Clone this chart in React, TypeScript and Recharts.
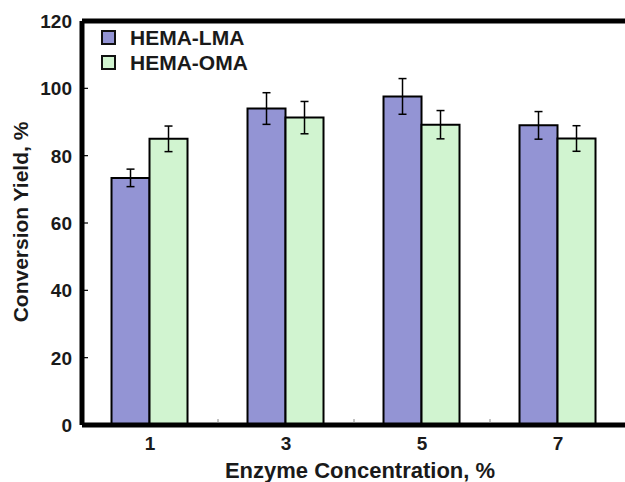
import React from 'react';
import { BarChart, Bar, XAxis, YAxis, ErrorBar, Legend, ReferenceLine } from 'recharts';

const categories = ['1', '3', '5', '7'];
const lmaValues = [73.4, 94.0, 97.6, 89.0];
const lmaErrors = [2.6, 4.7, 5.3, 4.1];
const omaValues = [85.0, 91.3, 89.2, 85.1];
const omaErrors = [3.8, 4.8, 4.2, 3.8];
const yTicks = [0, 20, 40, 60, 80, 100, 120];
const seriesNames = ['HEMA-LMA', 'HEMA-OMA'];
const seriesColors = ['#9394d4', '#d1f4d0'];

const data = categories.map((c, i) => ({
  c,
  lma: lmaValues[i],
  lmaErr: lmaErrors[i],
  oma: omaValues[i],
  omaErr: omaErrors[i],
}));

const FONT = '"Liberation Sans", Arial, Helvetica, sans-serif';
const CHART_W = 630;
const CHART_H = 482;
const X_AXIS_H = 57;
const MARGIN = { top: 21, right: 4, bottom: 0, left: 0 };
const Y_AXIS_W = 82;
const BAND = (CHART_W - MARGIN.right - MARGIN.left - Y_AXIS_W) / categories.length;

const YTick = (props: any) => {
  const { x, y, payload } = props;
  return (
    <g>
      <line x1={x + 12} x2={x + 16} y1={y} y2={y} stroke="#000" strokeWidth={1.2} />
      <text x={x} y={y} dy="0.36em" textAnchor="end" fontFamily={FONT} fontWeight="bold" fontSize={19} fill="#1a1a1a">
        {payload.value}
      </text>
    </g>
  );
};

const XTick = (props: any) => {
  const { x, y, payload, index } = props;
  const axisY = y - 12;
  return (
    <g>
      {index > 0 && (
        <line x1={x - BAND / 2} x2={x - BAND / 2} y1={axisY - 2} y2={axisY - 6} stroke="#888" strokeWidth={1} />
      )}
      <text x={x} y={y} dy="0.71em" textAnchor="middle" fontFamily={FONT} fontWeight="bold" fontSize={19} fill="#1a1a1a">
        {payload.value}
      </text>
    </g>
  );
};

const LegendContent = () => (
  <div style={{ fontFamily: FONT, fontWeight: 'bold', fontSize: 21, color: '#1a1a1a', lineHeight: '25px' }}>
    {seriesNames.map((n, i) => (
      <div key={n} style={{ display: 'flex', alignItems: 'center', height: 25 }}>
        <div
          style={{
            width: 11,
            height: 11,
            border: '2px solid #111',
            background: seriesColors[i],
            marginRight: 14,
          }}
        />
        <span>{n}</span>
      </div>
    ))}
  </div>
);

export default function App() {
  return (
    <div style={{ position: 'absolute', left: 0, top: 0, width: 625, height: 482, overflow: 'hidden', background: '#fff' }}>
      <BarChart
        width={CHART_W}
        height={CHART_H}
        data={data}
        margin={MARGIN}
        barCategoryGap="21.7%"
        barGap={0}
      >
        <XAxis
          dataKey="c"
          height={X_AXIS_H}
          tick={<XTick />}
          tickLine={false}
          tickSize={0}
          tickMargin={12}
          axisLine={{ stroke: '#000', strokeWidth: 5 }}
          label={{
            content: () => (
              <text x={360} y={478} textAnchor="middle" fontFamily={FONT} fontWeight="bold" fontSize={22} fill="#1a1a1a">
                Enzyme Concentration, %
              </text>
            ),
          }}
        />
        <YAxis
          domain={[0, 120]}
          ticks={yTicks}
          width={Y_AXIS_W}
          tick={<YTick />}
          tickLine={false}
          tickSize={0}
          tickMargin={10}
          axisLine={{ stroke: '#000', strokeWidth: 5 }}
          label={{
            content: () => (
              <text
                transform="translate(28,222) rotate(-90)"
                textAnchor="middle"
                fontFamily={FONT}
                fontWeight="bold"
                fontSize={21}
                fill="#1a1a1a"
              >
                Conversion Yield, %
              </text>
            ),
          }}
        />
        <ReferenceLine y={120} stroke="#000" strokeWidth={5} />
        <Legend
          layout="vertical"
          align="center"
          verticalAlign="middle"
          wrapperStyle={{ position: 'absolute', left: 101, top: 25, width: 'auto', height: 'auto' }}
          content={<LegendContent />}
        />
        <Bar dataKey="lma" name={seriesNames[0]} fill={seriesColors[0]} stroke="#000" strokeWidth={2} isAnimationActive={false}>
          <ErrorBar dataKey="lmaErr" width={4} stroke="#000" strokeWidth={1.5} />
        </Bar>
        <Bar dataKey="oma" name={seriesNames[1]} fill={seriesColors[1]} stroke="#000" strokeWidth={2} isAnimationActive={false}>
          <ErrorBar dataKey="omaErr" width={4} stroke="#000" strokeWidth={1.5} />
        </Bar>
      </BarChart>
    </div>
  );
}
